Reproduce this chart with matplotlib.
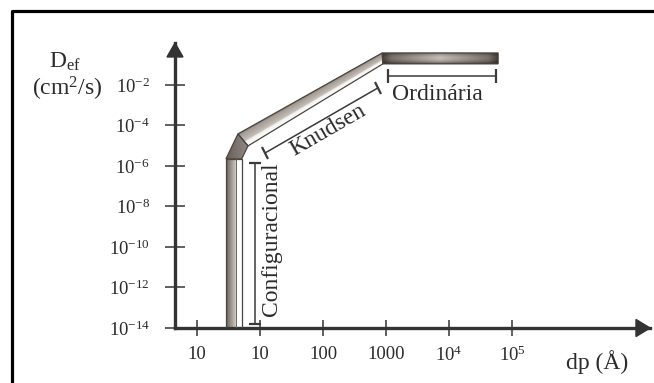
import numpy as np
import matplotlib
matplotlib.use("Agg")
import matplotlib.pyplot as plt
from matplotlib.patches import Polygon
from matplotlib.lines import Line2D
from matplotlib.markers import MarkerStyle
from matplotlib.transforms import Affine2D

plt.rcParams['font.family'] = ['Liberation Serif', 'DejaVu Serif']
plt.rcParams['mathtext.fontset'] = 'custom'
plt.rcParams['mathtext.rm'] = 'Liberation Serif'
plt.rcParams['mathtext.it'] = 'Liberation Serif:italic'

INK = '#2b2b2b'

# x: one slot per pore-size decade (labels as printed), y: log10 of D_ef
x_pos = [0, 1, 2, 3, 4, 5]
x_labels = ['10', '10', '100', '1000', r'$10^4$', r'$10^5$']
y_exps = [-2, -4, -6, -8, -10, -12, -14]
y_labels = [r'$10^{%d}$' % e for e in y_exps]

# the diffusivity band: outer (upper-left) and inner (lower-right) edges
band_outer_x = [0.46, 0.46, 0.65, 2.94, 4.78]
band_outer_y = [-14, -5.65, -4.42, -0.42, -0.42]
band_inner_x = [0.71, 0.71, 0.81, 2.95, 4.78]
band_inner_y = [-14, -5.65, -5.01, -0.96, -0.96]

# regime brackets
ordinaria_x = [3.03, 4.75]
ordinaria_y = [-1.56, -1.56]
knudsen_x = [1.08, 2.87]
knudsen_y = [-5.36, -2.15]
config_x = [0.92, 0.92]
config_y = [-13.8, -5.85]


def hex2rgb(h):
    h = h.lstrip('#')
    return np.array([int(h[i:i + 2], 16) / 255 for i in (0, 2, 4)])


def ramp(t, stops, colors):
    cols = np.array([hex2rgb(c) for c in colors])
    out = np.zeros(t.shape + (3,))
    for k in range(3):
        out[..., k] = np.interp(t, stops, cols[:, k])
    return out


def shade(ax, k, func, n=300):
    xy = [(band_outer_x[k], band_outer_y[k]), (band_outer_x[k + 1], band_outer_y[k + 1]),
          (band_inner_x[k + 1], band_inner_y[k + 1]), (band_inner_x[k], band_inner_y[k])]
    poly = Polygon(xy, closed=True, facecolor='none', edgecolor='#4a4541', lw=0.9, zorder=3)
    ax.add_patch(poly)
    xs, ys = zip(*xy)
    x0, x1, y0, y1 = min(xs), max(xs), min(ys), max(ys)
    gx, gy = np.meshgrid(np.linspace(x0, x1, n), np.linspace(y1, y0, n))
    im = ax.imshow(func(gx, gy, xy), extent=(x0, x1, y0, y1), aspect='auto',
                   interpolation='bilinear', zorder=2)
    im.set_clip_path(poly)


def vertical(gx, gy, xy):
    t = (gx - xy[0][0]) / (xy[3][0] - xy[0][0])
    return ramp(t, [0, 0.12, 0.4, 0.62, 0.66, 1],
                ['#4f4843', '#7d756e', '#aaa39d', '#cfcac5', '#ffffff', '#ffffff'])


def bend(gx, gy, xy):
    t = (gx - xy[0][0]) / (xy[2][0] - xy[0][0])
    return ramp(t, [0, 1], ['#655d56', '#958c85'])


def diagonal(gx, gy, xy):
    (ox0, oy0), (ox1, oy1), (ix1, iy1), (ix0, iy0) = xy
    yo = oy0 + (gx - ox0) * (oy1 - oy0) / (ox1 - ox0)
    yi = iy0 + (gx - ix0) * (iy1 - iy0) / (ix1 - ix0)
    t = np.clip((yo - gy) / (yo - yi), 0, 1)
    return ramp(t, [0, 0.1, 0.6, 0.66, 1],
                ['#7d756e', '#a39b94', '#c6c0ba', '#f4f2f0', '#ffffff'])


def horizontal(gx, gy, xy):
    s = (gx - xy[0][0]) / (xy[1][0] - xy[0][0])
    t = (xy[0][1] - gy) / (xy[0][1] - xy[3][1])
    base = ramp(s, [0, 0.08, 0.5, 0.92, 1],
                ['#453d38', '#7b716a', '#c4bcb5', '#7b716a', '#453d38'])
    f = 1 - 0.45 * (np.abs(t - 0.45) * 2) ** 2
    return base * f[..., None]


fig = plt.figure(figsize=(6.54, 3.83), dpi=100)
ax = fig.add_axes([175 / 654, 55 / 383, 475 / 654, 285 / 383])

for k, f in enumerate([vertical, bend, diagonal, horizontal]):
    shade(ax, k, f)

# thin line dividing the lit face from the white strip
ax.plot([band_outer_x[0] + 0.66 * (band_inner_x[0] - band_outer_x[0])] * 2,
        [band_outer_y[0], band_outer_y[1]], color='#6a645f', lw=0.7, zorder=3)

# brackets
lc = '#3a3a3a'
ax.plot(ordinaria_x, ordinaria_y, color=lc, lw=1.1, zorder=4)
ax.plot(ordinaria_x, ordinaria_y, ls='none', marker='|', ms=10, mew=1.6, color=lc)
ax.text(np.mean(ordinaria_x) - 0.08, -2.74, 'Ordinária', fontsize=17, color=INK,
        ha='center', va='baseline')

ax.plot(knudsen_x, knudsen_y, color=lc, lw=1.1, zorder=4)
tick30 = MarkerStyle('|', transform=Affine2D().rotate_deg(30))
ax.plot(knudsen_x, knudsen_y, ls='none', marker=tick30, ms=10, mew=1.6, color=lc)
ax.text(2.08, -4.22, 'Knudsen', fontsize=17, color=INK, rotation=30,
        rotation_mode='anchor', ha='center', va='center')

ax.plot(config_x, config_y, color=lc, lw=1.1, zorder=4)
ax.plot(config_x, config_y, ls='none', marker='_', ms=8, mew=1.6, color=lc)
ax.text(1.18, -9.6, 'Configuracional', fontsize=17, color=INK, rotation=90,
        rotation_mode='anchor', ha='center', va='center')

# axes with arrow heads
for s in ['top', 'right']:
    ax.spines[s].set_visible(False)
for s in ['left', 'bottom']:
    ax.spines[s].set_linewidth(2.4)
    ax.spines[s].set_color('#333333')
ax.add_patch(Polygon([(0, 1.0), (-0.0168, 0.951), (0.0168, 0.951)], closed=True,
                     transform=ax.transAxes, color='#333333', clip_on=False))
ax.add_patch(Polygon([(1.0, 0), (0.9705, 0.03), (0.9705, -0.03)], closed=True,
                     transform=ax.transAxes, color='#333333', clip_on=False))

ax.set_xticks(x_pos, x_labels)
ax.set_yticks(y_exps, y_labels)
ax.tick_params(axis='x', direction='inout', length=12, width=1.2, color='#444444',
               labelsize=13.5, labelcolor=INK, pad=7)
ax.tick_params(axis='y', direction='inout', length=14, width=1.2, color='#444444',
               labelsize=13.5, labelcolor=INK, pad=11)
ax.set_xlim(-0.349, 7.19)
ax.set_ylim(-14, 0.07)
ax.patch.set_visible(False)

fig.text(65 / 654, 1 - 62 / 383, r'D$_{\mathrm{ef}}$', fontsize=17, color=INK,
         ha='center', va='center')
fig.text(67 / 654, 1 - 89 / 383, '(cm$^2$/s)', fontsize=17, color=INK,
         ha='center', va='center')
fig.text(597 / 654, 1 - 362 / 383, 'dp (Å)', fontsize=17, color=INK,
         ha='center', va='center')

# scan frame (left and top edges)
fig.add_artist(Line2D([12 / 654, 12 / 654, 1.01], [-0.01, 1 - 11 / 383, 1 - 11 / 383],
                      transform=fig.transFigure, color='black', lw=2.3))

fig.savefig('out.png', dpi=100)
